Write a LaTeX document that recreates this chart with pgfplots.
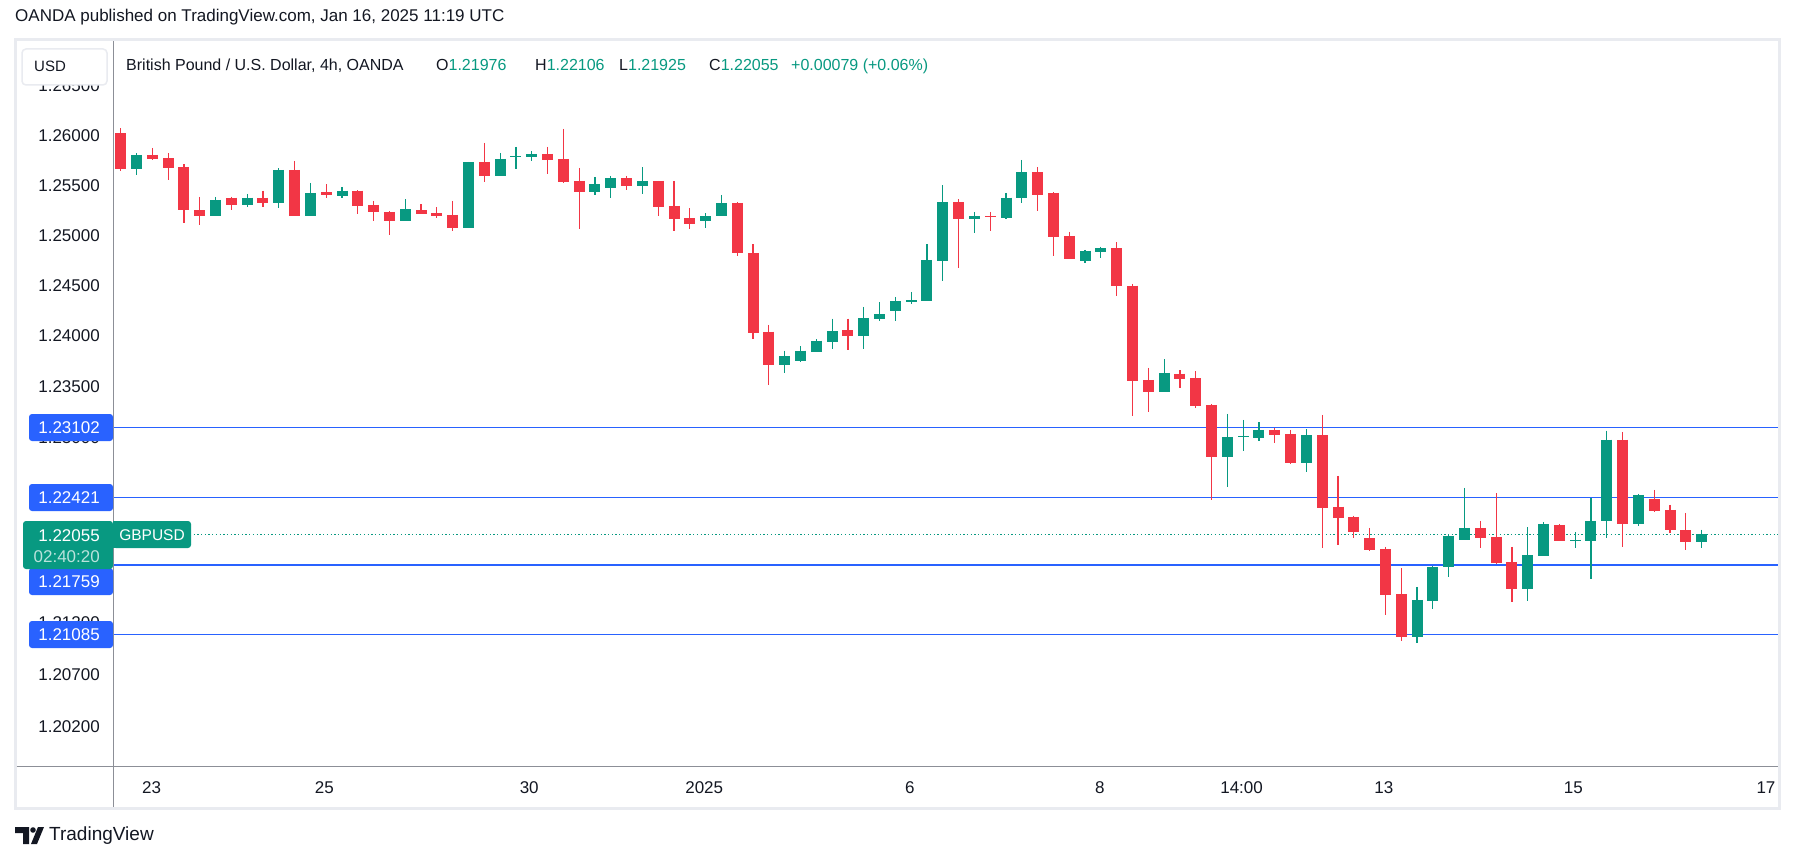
\documentclass[border=0pt]{standalone}
\usepackage{pgfplots}
\pgfplotsset{compat=1.18}
\usepackage{pgfplotstable}
\usepackage{fontspec}
\setmainfont{Liberation Sans}
\definecolor{tvred}{HTML}{F23645}
\definecolor{tvgreen}{HTML}{089981}
\definecolor{tvblue}{HTML}{2962FF}
\definecolor{tvtext}{HTML}{131722}
\definecolor{tvframe}{HTML}{E9EBF0}
\definecolor{tvsep}{HTML}{8C8F97}

\pgfplotstableread{
i o h l c
1 1.25657 1.25822 1.25607 1.25804
6 1.25197 1.25381 1.25197 1.25354
8 1.25307 1.25414 1.25277 1.25374
10 1.25327 1.25671 1.25267 1.25654
12 1.25187 1.25524 1.25187 1.25424
14 1.25397 1.25481 1.25377 1.25444
18 1.25147 1.25364 1.25147 1.25264
22 1.25078 1.25736 1.25076 1.25734
24 1.25587 1.25824 1.25587 1.25764
25 1.25787 1.25885 1.25657 1.25794
26 1.25787 1.25844 1.25747 1.25815
30 1.25437 1.25584 1.25407 1.25514
31 1.25477 1.25594 1.25377 1.25574
33 1.25497 1.25684 1.25417 1.25544
37 1.25137 1.25224 1.25078 1.25194
38 1.25187 1.25404 1.25187 1.25324
42 1.23719 1.23854 1.23640 1.23805
43 1.23759 1.23904 1.23749 1.23854
44 1.23847 1.23973 1.23847 1.23953
45 1.23946 1.24171 1.23877 1.24052
47 1.24005 1.24289 1.23877 1.24181
48 1.24174 1.24339 1.24154 1.24220
49 1.24253 1.24388 1.24154 1.24349
50 1.24342 1.24438 1.24322 1.24359
51 1.24352 1.24915 1.24352 1.24756
52 1.24749 1.25504 1.24550 1.25334
54 1.25167 1.25234 1.25028 1.25194
56 1.25177 1.25424 1.25167 1.25374
57 1.25367 1.25754 1.25317 1.25634
61 1.24749 1.24855 1.24729 1.24845
62 1.24838 1.24885 1.24779 1.24875
66 1.23453 1.23775 1.23453 1.23637
70 1.22812 1.23234 1.22522 1.23008
71 1.23011 1.23175 1.22874 1.23018
72 1.23001 1.23155 1.22969 1.23077
75 1.22753 1.23087 1.22668 1.23028
82 1.21065 1.21546 1.21008 1.21420
83 1.21413 1.21750 1.21336 1.21740
84 1.21743 1.22051 1.21646 1.22041
85 1.22005 1.22509 1.22005 1.22119
89 1.21530 1.22129 1.21413 1.21856
90 1.21850 1.22178 1.21850 1.22158
92 1.21996 1.22080 1.21927 1.22002
93 1.21996 1.22414 1.21627 1.22187
94 1.22180 1.23067 1.22025 1.22979
96 1.22151 1.22450 1.22141 1.22441
100 1.21976 1.22106 1.21925 1.22055
}\greentab

\pgfplotstableread{
i o h l c
0 1.26022 1.26073 1.25647 1.25664
2 1.25804 1.25872 1.25757 1.25764
3 1.25771 1.25822 1.25554 1.25677
4 1.25684 1.25711 1.25127 1.25247
5 1.25254 1.25381 1.25098 1.25197
7 1.25374 1.25387 1.25247 1.25307
9 1.25374 1.25444 1.25277 1.25327
11 1.25654 1.25744 1.25187 1.25187
13 1.25434 1.25514 1.25377 1.25407
15 1.25444 1.25447 1.25217 1.25297
16 1.25304 1.25344 1.25147 1.25227
17 1.25234 1.25244 1.25007 1.25147
19 1.25254 1.25311 1.25217 1.25217
20 1.25224 1.25284 1.25177 1.25197
21 1.25204 1.25344 1.25048 1.25078
23 1.25734 1.25925 1.25537 1.25587
27 1.25815 1.25885 1.25617 1.25757
28 1.25764 1.26066 1.25527 1.25537
29 1.25544 1.25674 1.25068 1.25437
32 1.25574 1.25594 1.25447 1.25497
34 1.25544 1.25546 1.25197 1.25277
35 1.25294 1.25544 1.25048 1.25167
36 1.25174 1.25274 1.25058 1.25118
39 1.25324 1.25334 1.24799 1.24819
40 1.24825 1.24915 1.23976 1.24035
41 1.24042 1.24111 1.23522 1.23719
46 1.24062 1.24171 1.23867 1.24005
53 1.25334 1.25364 1.24679 1.25167
55 1.25194 1.25234 1.25038 1.25187
58 1.25634 1.25684 1.25237 1.25407
59 1.25424 1.25434 1.24799 1.24985
60 1.24995 1.25035 1.24769 1.24769
63 1.24875 1.24935 1.24401 1.24501
64 1.24501 1.24520 1.23217 1.23561
65 1.23568 1.23687 1.23247 1.23453
67 1.23628 1.23667 1.23488 1.23581
68 1.23588 1.23657 1.23296 1.23315
69 1.23322 1.23327 1.22395 1.22812
73 1.23077 1.23097 1.22952 1.23028
74 1.23038 1.23077 1.22743 1.22753
76 1.23028 1.23224 1.21918 1.22317
77 1.22324 1.22626 1.21957 1.22219
78 1.22226 1.22236 1.22025 1.22083
79 1.22020 1.22119 1.21898 1.21908
80 1.21915 1.21934 1.21268 1.21471
81 1.21478 1.21724 1.21027 1.21065
86 1.22119 1.22187 1.21927 1.22025
87 1.22032 1.22460 1.21772 1.21782
88 1.21789 1.21934 1.21394 1.21530
91 1.22148 1.22158 1.21996 1.21996
95 1.22979 1.23057 1.21937 1.22151
97 1.22401 1.22490 1.22278 1.22288
98 1.22294 1.22343 1.22073 1.22093
99 1.22100 1.22265 1.21908 1.21976
}\redtab

\begin{document}
\begin{tikzpicture}
\fill[white] (0,0) rectangle (1793pt,-861pt);
\path[use as bounding box] (0,0) rectangle (1793pt,-861pt);
\begin{axis}[
  at={(113pt,-766pt)}, anchor=south west,
  scale only axis, width=1665pt, height=724pt,
  xmin=-0.487, xmax=104.83,
  ymode=log, ymin=1.198239, ymax=1.269426,
  axis line style={draw=none},
  tick style={draw=none},
  major tick length=0pt,
  minor ytick={},
  ytick={1.202,1.207,1.212,1.23,1.235,1.24,1.245,1.25,1.255,1.26,1.265},
  yticklabels={1.20200,1.20700,1.21200,1.23000,1.23500,1.24000,1.24500,1.25000,1.25500,1.26000,1.26500},
  yticklabel style={anchor=east, inner sep=0pt, xshift=-13pt, font=\fontsize{17}{20}\selectfont, text=tvtext},
  xtick={1.96,12.88,25.84,36.91,49.92,61.94,70.9,79.9,91.88,104.07},
  xticklabels={23,25,30,2025,6,8,14:00,13,15,17},
  xticklabel style={anchor=center, inner sep=0pt, yshift=-21.7pt, font=\fontsize{17}{20}\selectfont, text=tvtext},
  clip=true,
]
\addplot[tvblue, line width=1.2pt, forget plot] coordinates {(-1,1.23102) (106,1.23102)};
\addplot[tvblue, line width=1.2pt, forget plot] coordinates {(-1,1.22421) (106,1.22421)};
\addplot[tvblue, line width=1.2pt, forget plot] coordinates {(-1,1.21759) (106,1.21759)};
\addplot[tvblue, line width=1.2pt, forget plot] coordinates {(-1,1.21085) (106,1.21085)};
\addplot[tvgreen, line width=1.2pt, dash pattern=on 1.3pt off 2.4pt, forget plot] coordinates {(-1,1.22055) (106,1.22055)};

% wicks
\addplot[draw=none, mark=none, forget plot,
  error bars/.cd, y dir=minus, y explicit, error mark=none,
  error bar style={draw=tvred, line width=1.2pt}]
  table[x=i, y=h, y error minus expr=\thisrow{h}-\thisrow{l}] {\redtab};
\addplot[draw=none, mark=none, forget plot,
  error bars/.cd, y dir=minus, y explicit, error mark=none,
  error bar style={draw=tvgreen, line width=1.2pt}]
  table[x=i, y=h, y error minus expr=\thisrow{h}-\thisrow{l}] {\greentab};
% bodies
\addplot[draw=none, mark=none, forget plot,
  error bars/.cd, y dir=minus, y explicit, error mark=none,
  error bar style={draw=tvred, line width=11pt}]
  table[x=i, y=o, y error minus expr=\thisrow{o}-\thisrow{c}] {\redtab};
\addplot[draw=none, mark=none, forget plot,
  error bars/.cd, y dir=minus, y explicit, error mark=none,
  error bar style={draw=tvgreen, line width=11pt}]
  table[x=i, y=c, y error minus expr=\thisrow{c}-\thisrow{o}] {\greentab};
\end{axis}

\begin{scope}[x=1pt,y=-1pt]
  % frame and separators
  \draw[tvframe, line width=3pt] (15,40) rectangle (1779,808);
  \draw[tvsep, line width=1pt] (113,41.5) -- (113,806.5);
  \draw[tvsep, line width=1pt] (16.5,766) -- (1777.5,766);
  % title
  \node[anchor=base west, inner sep=0pt, text=tvtext, font=\fontsize{17}{20}\selectfont] at (15,21.5) {OANDA published on TradingView.com, Jan 16, 2025 11:19 UTC};
  % header
  \begin{scope}[every node/.style={anchor=base west, inner sep=0pt, font=\fontsize{16}{19}\selectfont}]
    \node[text=tvtext] at (126,71) {British Pound / U.S. Dollar, 4h, OANDA};
    \node at (436,71) {\textcolor{tvtext}{O}\textcolor{tvgreen}{1.21976}};
    \node at (535,71) {\textcolor{tvtext}{H}\textcolor{tvgreen}{1.22106}};
    \node at (619,71) {\textcolor{tvtext}{L}\textcolor{tvgreen}{1.21925}};
    \node at (709,71) {\textcolor{tvtext}{C}\textcolor{tvgreen}{1.22055}};
    \node[text=tvgreen] at (791,71) {+0.00079 (+0.06\%)};
  \end{scope}
  % USD button
  \draw[tvframe, line width=1.5pt, fill=white, rounded corners=4pt] (22,49) rectangle (107,85);
  \node[anchor=west, inner sep=0pt, text=tvtext, font=\fontsize{15}{18}\selectfont] at (34,66.5) {USD};
  % price labels
  \begin{scope}[every node/.style={anchor=east, inner sep=0pt, text=white, font=\fontsize{17}{20}\selectfont}]
    \fill[tvblue, rounded corners=3pt] (29,414) rectangle (113,441);
    \node at (100,427.8) {1.23102};
    \fill[tvblue, rounded corners=3pt] (29,484) rectangle (113,511);
    \node at (100,497.8) {1.22421};
    \fill[tvblue, rounded corners=3pt] (29,568) rectangle (113,595);
    \node at (100,581.8) {1.21759};
    \fill[tvblue, rounded corners=3pt] (29,621) rectangle (113,648);
    \node at (100,634.8) {1.21085};
    \fill[tvgreen, rounded corners=3pt] (23,521) rectangle (113,569);
    \node at (100,535.5) {1.22055};
    \node[text=white!72!tvgreen] at (100,556.5) {02:40:20};
  \end{scope}
  \fill[tvgreen, rounded corners=3pt] (113,521) rectangle (191,548);
  \fill[tvgreen] (113,521) rectangle (118,548);
  \node[inner sep=0pt, text=white, font=\fontsize{15.5}{18}\selectfont] at (152,534.8) {GBPUSD};
  % TradingView logo
  \fill[tvtext] (15,827) -- (29,827) -- (29,844) -- (23,844) -- (23,833) -- (15,833) -- cycle;
  \fill[tvtext] (33,830) circle (2.8);
  \fill[tvtext] (38,827) -- (44,827) -- (37,844) -- (31,844) -- cycle;
  \node[anchor=west, inner sep=0pt, text=tvtext, font=\fontsize{19}{22}\selectfont] at (49,835.5) {TradingView};
\end{scope}
\end{tikzpicture}
\end{document}
